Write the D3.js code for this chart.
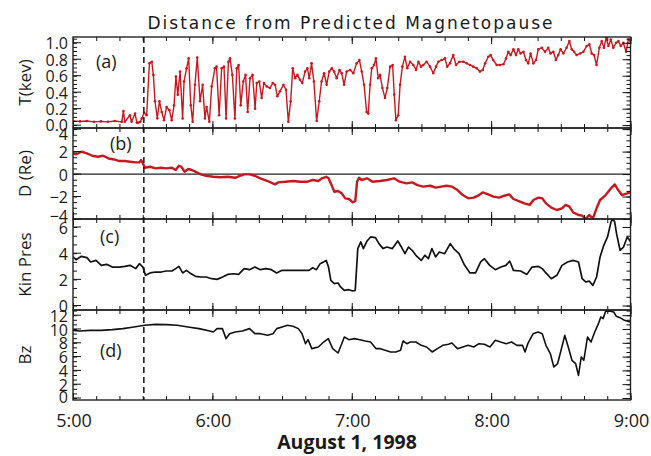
<!DOCTYPE html>
<html>
<head>
<meta charset="utf-8">
<script src="https://cdn.jsdelivr.net/npm/d3@7"></script>
<style>
body { margin: 0; background: #fff; }
text { font-family: "Open Sans", sans-serif; fill: #1a1a1a; }
</style>
</head>
<body>
<svg id="chart" width="651" height="456"></svg>
<script>
// minutes after 5:00 UT, value
const tempData = [[0,0.05],[3,0.045],[6,0.05],[9,0.04],[12,0.045],[15,0.04],[18,0.05],[21,0.04],[21.7,0.17],[22.3,0.04],[24.5,0.12],[25.2,0.04],[26.7,0.14],[27.5,0.03],[28.1,0.03],[29,0.04],[29.6,0.08],[30.6,0.15],[31.7,0.12],[32.9,0.75],[33.9,0.77],[34.6,0.61],[35.3,0.29],[36.3,0.08],[37.2,0.29],[38.2,0.16],[39.2,0.06],[40.3,0.22],[41.5,0.18],[42.5,0.06],[43.5,0.24],[44.3,0.59],[45.1,0.37],[46.1,0.65],[47.2,0.08],[47.8,0.53],[48.9,0.69],[49.8,0.81],[50.7,0.24],[51.5,0.04],[52.5,0.49],[53.5,0.82],[54.7,0.29],[55.8,0.49],[56.8,0.08],[57.5,0.22],[58.7,0.04],[59.7,0.47],[61.1,0.69],[61.8,0.71],[62.9,0.12],[64.0,0.69],[65.0,0.71],[65.9,0.08],[66.9,0.77],[67.6,0.81],[68.6,0.61],[69.7,0.08],[70.5,0.69],[71.3,0.73],[72.2,0.24],[73.3,0.53],[74.3,0.61],[75.2,0.16],[76.2,0.57],[77.3,0.61],[78.4,0.20],[79.1,0.51],[80.2,0.53],[81.2,0.33],[82.2,0.51],[83.4,0.47],[84.8,0.45],[86.0,0.51],[87.0,0.49],[88.0,0.35],[89.1,0.41],[90.6,0.49],[91.7,0.43],[92.7,0.04],[93.7,0.29],[94.6,0.69],[95.6,0.57],[96.6,0.61],[97.7,0.55],[98.7,0.51],[99.9,0.65],[100.9,0.69],[101.7,0.57],[102.7,0.75],[103.7,0.53],[104.9,0.05],[106.0,0.29],[107.0,0.53],[108.1,0.63],[109.2,0.49],[110.3,0.65],[111.4,0.69],[112.4,0.65],[113.5,0.57],[114.7,0.67],[115.7,0.63],[116.7,0.49],[117.8,0.65],[119.3,0.67],[120.7,0.63],[122.1,0.75],[123.3,0.79],[124.3,0.65],[125.3,0.49],[126.4,0.16],[127.1,0.14],[127.9,0.49],[128.6,0.69],[129.6,0.73],[130.4,0.81],[131.4,0.57],[132.2,0.61],[133.2,0.45],[134.3,0.33],[135.3,0.45],[136.5,0.71],[137.6,0.73],[138.3,0.37],[139.0,0.06],[140.0,0.12],[140.8,0.49],[141.8,0.71],[142.9,0.83],[143.9,0.69],[145.1,0.77],[146.5,0.73],[147.7,0.67],[148.7,0.77],[149.8,0.71],[150.8,0.73],[152.2,0.77],[153.7,0.71],[155.1,0.63],[156.3,0.71],[157.3,0.77],[158.7,0.79],[160.1,0.81],[161.1,0.71],[162.3,0.75],[163.7,0.85],[164.9,0.73],[166.3,0.77],[168.0,0.77],[169.5,0.75],[170.9,0.73],[172.3,0.71],[173.8,0.69],[175.2,0.65],[176.4,0.67],[177.4,0.75],[178.8,0.83],[179.8,0.85],[180.9,0.79],[182.4,0.73],[183.8,0.73],[185.3,0.74],[186.4,0.81],[187.4,0.89],[188.4,0.85],[189.6,0.92],[190.7,0.85],[191.7,0.92],[192.7,0.87],[193.9,0.89],[195.0,0.79],[196.0,0.75],[197.0,0.87],[198.2,0.75],[199.3,0.79],[200.3,0.92],[201.8,0.94],[203.2,0.89],[204.6,0.94],[205.6,0.87],[206.8,0.89],[207.9,0.79],[208.9,0.85],[209.9,0.92],[211.1,0.87],[212.5,0.94],[213.7,1.02],[214.7,0.92],[215.7,0.89],[216.8,0.85],[218.3,0.87],[219.7,0.89],[221.1,0.96],[222.3,0.98],[223.3,0.87],[224.3,0.85],[225.4,0.73],[226.6,0.94],[227.6,1.02],[228.6,0.94],[229.5,1.06],[230.5,0.96],[231.5,1.04],[232.6,0.94],[233.8,1.0],[234.8,1.02],[235.8,0.96],[236.9,1.0],[238.1,0.89],[239.1,1.04],[240,1.02]];

const distData = [[0,1.84],[1.3,1.75],[3.6,1.99],[6.0,1.84],[8.3,1.63],[10.6,1.54],[13.0,1.63],[15.3,1.39],[17.7,1.30],[20.0,1.16],[22.3,1.16],[24.6,1.10],[27.0,1.04],[28.6,1.04],[29.3,1.25],[30.1,0.95],[30.9,0.56],[33.2,0.65],[35.5,0.51],[37.9,0.56],[40.2,0.51],[42.6,0.56],[44.2,0.36],[45.6,0.74],[46.7,0.65],[48.0,0.21],[49.6,0.45],[51.1,0.36],[52.7,0.21],[55.0,-0.03],[57.3,-0.15],[60.4,-0.24],[63.6,-0.29],[66.6,-0.24],[69.8,-0.33],[72.1,-0.15],[73.7,-0.03],[76.0,-0.03],[78.3,-0.15],[80.6,-0.38],[83.8,-0.62],[86.9,-0.92],[88.4,-0.74],[91.5,-0.68],[94.7,-0.62],[97.8,-0.68],[100.9,-0.68],[103.2,-0.53],[105.6,-0.62],[107.1,-0.38],[109.0,-0.24],[110.0,-0.38],[111.0,-0.83],[112.5,-1.57],[114.1,-1.51],[115.7,-1.72],[117.2,-2.16],[118.8,-2.22],[120.4,-2.52],[121.5,-2.40],[122.3,-0.68],[123.1,-0.33],[124.2,-0.53],[126.6,-0.38],[128.9,-0.68],[132.1,-0.62],[135.1,-0.53],[138.2,-0.38],[140.6,-0.68],[143.6,-0.83],[146.0,-0.74],[148.3,-0.98],[150.7,-1.12],[153.8,-1.04],[156.1,-1.21],[158.5,-1.12],[160.8,-1.04],[163.2,-1.12],[165.5,-1.42],[167.8,-1.87],[170.1,-2.16],[172.5,-2.10],[174.8,-1.87],[176.4,-1.63],[178.7,-1.81],[181.0,-2.01],[183.4,-2.10],[185.7,-1.93],[187.8,-1.81],[189.6,-2.22],[191.9,-2.40],[194.3,-2.61],[196.6,-2.75],[198.2,-2.31],[200.4,-2.10],[202.0,-2.16],[203.6,-2.61],[205.9,-2.99],[208.3,-3.20],[210.5,-3.05],[212.1,-2.75],[213.7,-2.90],[215.3,-3.41],[217.6,-3.64],[219.2,-3.70],[220.7,-4.00],[222.2,-3.64],[223.8,-3.94],[225.4,-3.05],[226.9,-2.31],[229.3,-1.87],[231.6,-1.27],[233.2,-0.92],[234.7,-1.42],[236.3,-1.87],[238.6,-1.72],[240,-1.6]];

const presData = [[0,3.71],[1.3,3.50],[3.6,3.76],[6.0,3.66],[7.6,3.33],[9.9,3.45],[12.2,3.07],[14.5,3.15],[16.9,2.94],[20.0,2.94],[22.3,2.99],[24.6,3.07],[27.0,2.82],[28.6,3.20],[30.1,2.94],[31.2,2.31],[33.2,2.49],[35.5,2.56],[37.9,2.56],[40.2,2.64],[42.6,2.64],[44.2,2.82],[45.6,2.99],[47.2,2.49],[48.8,2.69],[50.3,2.49],[52.7,2.23],[55.0,2.18],[57.3,2.18],[59.7,2.05],[62.0,2.00],[64.4,2.18],[66.6,2.38],[69.0,2.43],[71.3,2.38],[73.7,2.82],[76.0,2.74],[78.3,2.94],[80.6,2.74],[83.0,2.82],[85.4,2.74],[87.7,2.49],[90.0,2.69],[93.1,2.69],[96.3,2.69],[99.3,2.69],[101.6,2.69],[103.2,2.89],[104.8,2.74],[106.4,3.20],[107.9,3.33],[109.0,3.45],[110.0,2.94],[111.0,1.92],[112.5,1.67],[114.1,1.72],[115.2,1.42],[116.8,1.16],[118.8,1.21],[120.4,1.11],[121.5,1.16],[122.6,4.35],[123.9,4.86],[125.0,4.35],[126.6,4.93],[128.1,5.24],[130.2,5.19],[131.7,4.73],[133.5,4.35],[135.1,4.47],[137.5,4.35],[139.8,4.93],[141.4,4.47],[142.9,3.96],[144.4,4.47],[146.0,4.22],[147.6,3.84],[149.9,3.45],[151.5,3.84],[153.0,3.58],[154.5,4.35],[156.1,3.71],[157.7,4.09],[160.0,3.96],[162.4,4.73],[163.9,4.35],[166.2,3.96],[168.6,3.07],[170.9,2.49],[173.3,2.49],[175.5,3.33],[177.1,3.58],[179.4,3.07],[181.8,2.74],[184.2,2.94],[186.4,3.07],[188.0,3.40],[189.6,2.69],[192.7,2.64],[195.4,2.38],[197.6,2.94],[200.4,2.99],[202.0,2.82],[203.6,2.49],[205.9,2.05],[208.3,2.31],[210.5,3.07],[212.9,3.33],[215.3,3.45],[217.6,3.33],[219.2,2.05],[220.7,1.80],[222.2,1.87],[223.8,1.54],[225.4,2.18],[226.9,3.71],[228.5,4.60],[230.1,5.24],[231.6,6.38],[232.4,6.64],[233.2,6.38],[234.0,5.49],[235.5,4.22],[237.0,4.47],[238.6,5.24],[240,4.9]];

const bzData = [[0,9.80],[2.9,9.71],[7.5,9.80],[12.2,9.80],[16.9,9.90],[21.5,10.05],[26.2,10.29],[30.9,10.53],[35.5,10.67],[40.2,10.63],[44.9,10.53],[49.5,10.29],[54.2,10.05],[58.9,9.71],[60.4,9.56],[62.0,10.05],[64.3,10.05],[65.9,8.60],[67.4,9.32],[69.8,9.56],[72.9,9.71],[76.0,10.05],[78.3,9.32],[80.7,9.32],[83.8,9.08],[86.1,9.32],[87.7,10.05],[90.0,10.29],[92.3,10.53],[94.7,10.39],[97.0,10.05],[98.6,9.32],[100.1,7.87],[101.2,8.45],[102.8,7.15],[105.6,7.39],[107.9,8.11],[109.9,8.60],[111.8,7.15],[114.1,6.52],[115.7,7.87],[116.8,8.84],[118.8,8.45],[121.1,8.60],[123.5,8.45],[125.8,8.26],[128.1,8.11],[130.5,7.15],[132.3,7.15],[134.4,6.91],[136.7,6.67],[139.0,6.67],[141.0,6.91],[142.1,8.26],[143.7,7.87],[145.2,8.11],[147.6,8.11],[149.9,7.63],[152.2,7.39],[154.6,6.67],[156.9,7.15],[159.2,7.63],[161.6,7.78],[163.1,7.97],[165.5,7.15],[167.8,7.39],[170.1,7.63],[172.5,7.39],[174.8,7.87],[177.1,7.78],[179.5,7.39],[181.8,8.36],[184.1,8.11],[186.5,7.87],[188.8,8.11],[191.1,7.63],[193.5,7.63],[194.6,6.67],[195.8,7.87],[198.1,9.32],[200.2,9.56],[202.0,9.32],[203.6,7.63],[205.5,6.42],[207.0,4.49],[208.6,4.97],[210.1,6.91],[211.7,9.08],[213.2,7.39],[214.8,5.46],[216.4,4.97],[217.6,3.28],[218.8,5.94],[219.9,5.46],[221.5,8.84],[223.0,8.11],[224.6,9.56],[226.2,10.77],[227.2,11.74],[228.2,11.50],[229.3,12.56],[230.8,12.61],[232.8,12.46],[233.9,11.83],[235.5,11.64],[237.4,11.25],[240,11.0]];

const hourLabels = ["5:00", "6:00", "7:00", "8:00", "9:00"];
const eventMinute = 30.5;

const svg = d3.select("#chart");
const left = 73, right = 630.5;
const x = d3.scaleLinear().domain([0, 240]).range([left, right]);

const red = "#c8181f";

const panels = [
    { key: "a", tag: "(a)", title: "T(kev)", data: tempData, domain: [-0.035, 1.07], top: 37, bottom: 128,
      major: d3.range(0, 1.01, 0.2), minor: d3.range(0, 1.06, 0.05), fmt: d3.format(".1f"),
      color: red, width: 1.4, dots: true, tagX: 96, tagY: 68 },
    { key: "b", tag: "(b)", title: "D (Re)", data: distData, domain: [-4.0, 4.1], top: 128, bottom: 219,
      major: d3.range(-4, 4.1, 2), minor: d3.range(-4, 4.1, 0.5), fmt: d3.format("d"),
      color: red, width: 2.4, zero: true, tagX: 110, tagY: 150 },
    { key: "c", tag: "(c)", title: "Kin Pres", data: presData, domain: [-0.34, 6.61], top: 219, bottom: 310,
      major: d3.range(0, 6.1, 2), minor: d3.range(0, 6.6, 2 / 3), fmt: d3.format("d"),
      color: "#111", width: 1.7, tagX: 100, tagY: 243 },
    { key: "d", tag: "(d)", title: "Bz", data: bzData, domain: [-0.29, 12.75], top: 310, bottom: 400,
      major: d3.range(0, 12.1, 2), minor: d3.range(0, 12.7, 2 / 3), fmt: d3.format("d"),
      color: "#111", width: 1.6, tagX: 100, tagY: 357 }
];

const hourTicks = d3.range(0, 241, 60);
const tenMinTicks = d3.range(0, 241, 10);

function styleAxis(g) {
    g.select(".domain").remove();
    g.selectAll(".tick line").attr("stroke", "#111").attr("stroke-width", 1);
}

panels.forEach(function (p) {
    const y = d3.scaleLinear().domain(p.domain).range([p.bottom, p.top]);
    const g = svg.append("g");

    svg.append("clipPath").attr("id", "clip-" + p.key)
        .append("rect")
        .attr("x", left).attr("y", p.top)
        .attr("width", right - left).attr("height", p.bottom - p.top);

    if (p.zero) {
        g.append("line")
            .attr("x1", left).attr("x2", right)
            .attr("y1", y(0)).attr("y2", y(0))
            .attr("stroke", "#222").attr("stroke-width", 1.3);
    }

    const line = d3.line().x(d => x(d[0])).y(d => y(d[1]));
    const plot = g.append("g").attr("clip-path", "url(#clip-" + p.key + ")");
    plot.append("path").datum(p.data)
        .attr("d", line)
        .attr("fill", "none")
        .attr("stroke", p.color)
        .attr("stroke-width", p.width)
        .attr("stroke-linejoin", "round");
    if (p.dots) {
        plot.selectAll("circle").data(p.data).enter()
            .append("circle")
            .attr("cx", d => x(d[0]))
            .attr("cy", d => y(d[1]))
            .attr("r", 1.3)
            .attr("fill", p.color);
    }

    // y ticks, both sides, pointing inward
    g.append("g").attr("transform", "translate(" + left + ",0)")
        .call(d3.axisLeft(y).tickValues(p.minor).tickSize(-4).tickFormat("")).call(styleAxis);
    g.append("g").attr("transform", "translate(" + right + ",0)")
        .call(d3.axisRight(y).tickValues(p.minor).tickSize(-4).tickFormat("")).call(styleAxis);
    g.append("g").attr("transform", "translate(" + right + ",0)")
        .call(d3.axisRight(y).tickValues(p.major).tickSize(-8).tickFormat("")).call(styleAxis);
    const yl = g.append("g").attr("transform", "translate(" + left + ",0)")
        .call(d3.axisLeft(y).tickValues(p.major).tickSize(-8).tickPadding(5).tickFormat(p.fmt))
        .call(styleAxis);
    yl.selectAll(".tick").attr("transform", null);
    yl.selectAll(".tick line").attr("transform", d => "translate(0," + y(d) + ")");
    yl.selectAll(".tick text")
        .attr("y", d => Math.max(p.top + 6, Math.min(p.bottom - 3, y(d) + 1)))
        .attr("dy", "0.35em")
        .attr("x", -5)
        .style("font-size", "16px")
        .style("font-family", "'Open Sans', sans-serif")
        .attr("fill", "#1a1a1a");

    // x ticks on top and bottom of every panel
    [[p.top, d3.axisTop], [p.bottom, d3.axisBottom]].forEach(function (pair) {
        g.append("g").attr("transform", "translate(0," + pair[0] + ")")
            .call(pair[1](x).tickValues(tenMinTicks).tickSize(-4).tickFormat("")).call(styleAxis);
        g.append("g").attr("transform", "translate(0," + pair[0] + ")")
            .call(pair[1](x).tickValues(hourTicks).tickSize(-7).tickFormat("")).call(styleAxis);
    });

    g.append("rect")
        .attr("x", left).attr("y", p.top)
        .attr("width", right - left).attr("height", p.bottom - p.top)
        .attr("fill", "none").attr("stroke", "#222").attr("stroke-width", 1.4);

    g.append("text")
        .attr("x", p.tagX).attr("y", p.tagY)
        .style("font-size", "18px")
        .text(p.tag);

    g.append("text")
        .attr("transform", "translate(31," + ((p.top + p.bottom) / 2) + ") rotate(-90)")
        .attr("text-anchor", "middle")
        .style("font-size", "17px")
        .text(p.title);
});

// event marker
svg.append("line")
    .attr("x1", x(eventMinute)).attr("x2", x(eventMinute))
    .attr("y1", panels[0].top).attr("y2", panels[3].bottom)
    .attr("stroke", "#111").attr("stroke-width", 1.5)
    .attr("stroke-dasharray", "6,4");

svg.selectAll(".hour-label").data(hourTicks).enter()
    .append("text")
    .attr("class", "hour-label")
    .attr("x", d => x(d) + 1)
    .attr("y", 427)
    .attr("text-anchor", "middle")
    .style("font-size", "18px")
    .text((d, i) => hourLabels[i]);

svg.append("text")
    .attr("x", 347).attr("y", 449)
    .attr("text-anchor", "middle")
    .style("font-size", "19.5px")
    .style("font-weight", "bold")
    .text("August 1, 1998");

svg.append("text")
    .attr("x", 350).attr("y", 29)
    .attr("text-anchor", "middle")
    .attr("textLength", 405)
    .attr("lengthAdjust", "spacing")
    .style("font-family", "'DejaVu Sans', sans-serif")
    .style("font-size", "17px")
    .text("Distance from Predicted Magnetopause");
</script>
</body>
</html>
